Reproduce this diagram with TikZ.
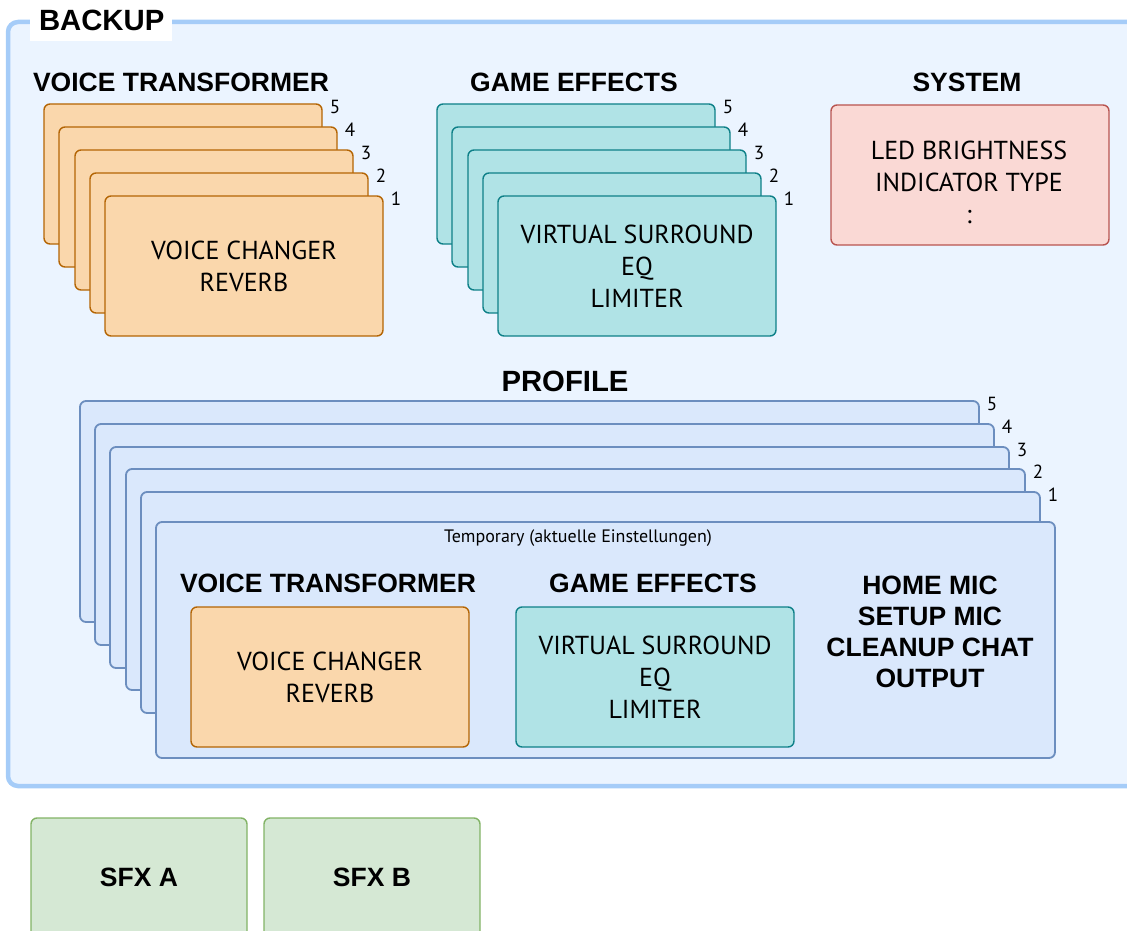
\documentclass[tikz,border=0pt]{standalone}
\usepackage{fontspec}
\setmainfont{PT Sans}
\newfontfamily\headfont{Liberation Sans}
\usetikzlibrary{positioning}
\definecolor{bkpfill}{HTML}{EBF4FF}
\definecolor{bkpline}{HTML}{A5CCF8}
\definecolor{vtfill}{HTML}{FAD7AC}
\definecolor{vtline}{HTML}{B46504}
\definecolor{gefill}{HTML}{B0E3E6}
\definecolor{geline}{HTML}{0E8088}
\definecolor{sysfill}{HTML}{FAD9D5}
\definecolor{sysline}{HTML}{B85450}
\definecolor{prfill}{HTML}{DAE8FC}
\definecolor{prline}{HTML}{6C8EBF}
\definecolor{sfxfill}{HTML}{D5E8D4}
\definecolor{sfxline}{HTML}{82B366}

\begin{document}
\begin{tikzpicture}[x=1pt,y=-1pt]
  \tikzset{card/.style={draw,rounded corners=6,line width=1.4,anchor=north west,
      outer sep=0,inner sep=0,minimum width=278,minimum height=140,align=center,
      font=\fontsize{26}{32}\selectfont},
    vt/.style={card,fill=vtfill,draw=vtline},
    ge/.style={card,fill=gefill,draw=geline},
    pr/.style={card,fill=prfill,draw=prline,line width=1.8,minimum width=899,minimum height=221},
    head/.style={align=center,inner sep=0,font=\headfont\bfseries\fontsize{26.5}{31}\selectfont},
    big head/.style={head,font=\headfont\bfseries\fontsize{29.3}{33}\selectfont},
    num/.style={inner sep=0,font=\fontsize{19}{21}\selectfont}}
  \path[use as bounding box,clip] (0,0) rectangle (1127,931);
  % backup frame
  \node[draw=bkpline,fill=bkpfill,line width=4.5,rounded corners=10,anchor=north west,
    outer sep=0,minimum width=1140,minimum height=764] (bkp) at (8,22) {};
  \node[big head,fill=white,anchor=north west,outer sep=0,inner ysep=0,inner xsep=9,
    minimum height=41,text width=124,align=left] (bkpT) at (30,0) {BACKUP};
  % voice transformer
  \node[head] (vtT) at (181,82) {VOICE TRANSFORMER};
  \node[vt] (vt5) at (44,104) {};
  \node[vt] (vt4) at (59,127) {};
  \node[vt] (vt3) at (75,150) {};
  \node[vt] (vt2) at (90,173) {};
  \node[vt] (vt1) at (105,196) {VOICE CHANGER\\REVERB};
  \node[num] (vt5n) at ([shift={(13,3)}]vt5.north east) {5};
  \node[num] (vt4n) at ([shift={(13,3)}]vt4.north east) {4};
  \node[num] (vt3n) at ([shift={(13,3)}]vt3.north east) {3};
  \node[num] (vt2n) at ([shift={(13,3)}]vt2.north east) {2};
  \node[num] (vt1n) at ([shift={(13,3)}]vt1.north east) {1};
  % game effects
  \node[head] (geT) at (574,82) {GAME EFFECTS};
  \node[ge] (ge5) at (437,104) {};
  \node[ge] (ge4) at (452,127) {};
  \node[ge] (ge3) at (468,150) {};
  \node[ge] (ge2) at (483,173) {};
  \node[ge] (ge1) at (498,196) {VIRTUAL SURROUND\\EQ\\LIMITER};
  \node[num] (ge5n) at ([shift={(13,3)}]ge5.north east) {5};
  \node[num] (ge4n) at ([shift={(13,3)}]ge4.north east) {4};
  \node[num] (ge3n) at ([shift={(13,3)}]ge3.north east) {3};
  \node[num] (ge2n) at ([shift={(13,3)}]ge2.north east) {2};
  \node[num] (ge1n) at ([shift={(13,3)}]ge1.north east) {1};
  % system
  \node[head] (sysT) at (967,82) {SYSTEM};
  \node[card,fill=sysfill,draw=sysline] (sys) at (831,105) {};
  \node[align=center,inner sep=0,font=\fontsize{26}{32}\selectfont] (sysL)
    at (969,182) {LED BRIGHTNESS\\INDICATOR TYPE\\:};
  % profile
  \node[big head] (prT) at (565,381) {PROFILE};
  \node[pr] (pr5) at (80,401) {};
  \node[pr] (pr4) at (95,424) {};
  \node[pr] (pr3) at (110,447) {};
  \node[pr] (pr2) at (126,469) {};
  \node[pr] (pr1) at (141,492) {};
  \node[pr,minimum height=236] (tmp) at (156,522) {};
  \node[num] (pr5n) at ([shift={(13,3)}]pr5.north east) {5};
  \node[num] (pr4n) at ([shift={(13,3)}]pr4.north east) {4};
  \node[num] (pr3n) at ([shift={(13,3)}]pr3.north east) {3};
  \node[num] (pr2n) at ([shift={(13,3)}]pr2.north east) {2};
  \node[num] (pr1n) at ([shift={(13,3)}]pr1.north east) {1};
  \node[inner sep=0,font=\fontsize{18}{20}\selectfont] (tmpT) at (578,538)
    {Temporary (aktuelle Einstellungen)};
  \node[head] (tvtT) at (328,583) {VOICE TRANSFORMER};
  \node[head] (tgeT) at (653,583) {GAME EFFECTS};
  \node[vt] (tvt) at (191,607) {VOICE CHANGER\\REVERB};
  \node[ge] (tge) at (516,607) {VIRTUAL SURROUND\\EQ\\LIMITER};
  \node[head] (mic) at (930,632) {HOME MIC\\SETUP MIC\\CLEANUP CHAT\\OUTPUT};
  % sfx
  \node[card,fill=sfxfill,draw=sfxline,minimum width=216,minimum height=119,
    font=\headfont\bfseries\fontsize{26.5}{31}\selectfont] (sfxA) at (31,818) {SFX A};
  \node[card,fill=sfxfill,draw=sfxline,minimum width=216,minimum height=119,
    font=\headfont\bfseries\fontsize{26.5}{31}\selectfont] (sfxB) at (264,818) {SFX B};
\end{tikzpicture}
\end{document}
